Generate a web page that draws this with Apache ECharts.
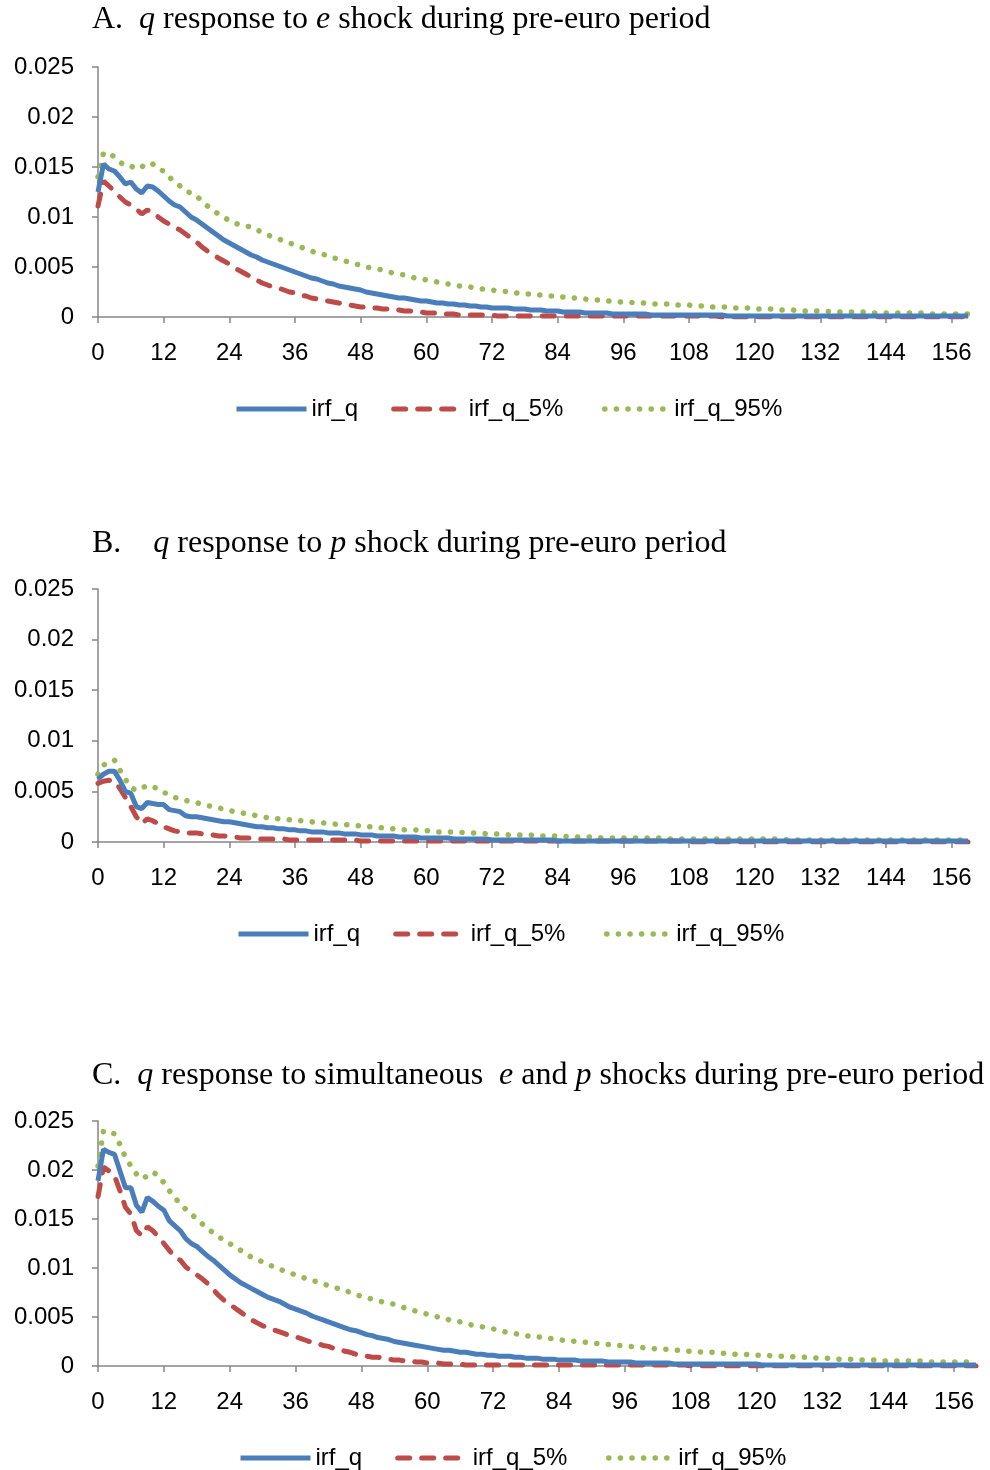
<!DOCTYPE html>
<html>
<head>
<meta charset="utf-8">
<script src="https://cdn.jsdelivr.net/npm/echarts@6/dist/echarts.min.js"></script>
<style>
  html, body { margin: 0; padding: 0; background: #fff; }
  #grafiks { width: 990px; height: 1470px; }
</style>
</head>
<body>
<div id="grafiks"></div>
<script>
// periods shown on the x axis, labels every 12 months
var xTicks = ['0', '12', '24', '36', '48', '60', '72', '84', '96', '108', '120', '132', '144', '156']
var periodsAB = Array.from({ length: 160 }, function (_, i) { return String(i) })
var periodsC = Array.from({ length: 161 }, function (_, i) { return String(i) })

// A. q response to e shock
var qA = [
  0.0125,0.0153,0.0148,0.0146,0.0140,0.0133,0.0135,0.0128,0.0124,0.0131,0.0130,0.0126,
  0.0121,0.0116,0.0112,0.0110,0.0105,0.0100,0.0097,0.0093,0.0089,0.0085,0.0081,0.0077,
  0.0074,0.0071,0.0068,0.0065,0.0062,0.0060,0.0057,0.0055,0.0053,0.0051,0.0049,0.0047,
  0.0045,0.0043,0.0041,0.0039,0.0038,0.0036,0.0034,0.0033,0.0031,0.0030,0.0029,0.0028,
  0.0027,0.0025,0.0024,0.0023,0.0022,0.0021,0.0020,0.0019,0.0019,0.0018,0.0017,0.0016,
  0.0016,0.0015,0.0014,0.0014,0.0013,0.0013,0.0012,0.0012,0.0011,0.0011,0.0010,0.0010,
  0.0009,0.0009,0.0009,0.0009,0.0008,0.0008,0.0008,0.0007,0.0007,0.0007,0.0006,0.0006,
  0.0006,0.0005,0.0005,0.0005,0.0005,0.0004,0.0004,0.0004,0.0004,0.0004,0.0003,0.0003,
  0.0003,0.0003,0.0003,0.0003,0.0003,0.0002,0.0002,0.0002,0.0002,0.0002,0.0002,0.0002,
  0.0002,0.0002,0.0002,0.0002,0.0002,0.0002,0.0002,0.0001,0.0001,0.0001,0.0001,0.0001,
  0.0001,0.0001,0.0001,0.0001,0.0001,0.0001,0.0001,0.0001,0.0001,0.0001,0.0001,0.0001,
  0.0001,0.0001,0.0001,0.0001,0.0001,0.0001,0.0001,0.0001,0.0001,0.0001,0.0001,0.0001,
  0.0001,0.0001,0.0001,0.0001,0.0001,0.0001,0.0001,0.0001,0.0001,0.0001,0.0001,0.0001,
  0.0001,0.0001,0.0001,0.0001
]
var q5A = [
  0.0111,0.0136,0.0131,0.0126,0.0120,0.0115,0.0112,0.0108,0.0103,0.0107,0.0105,0.0100,
  0.0096,0.0093,0.0090,0.0087,0.0083,0.0079,0.0075,0.0070,0.0066,0.0063,0.0059,0.0056,
  0.0053,0.0049,0.0046,0.0043,0.0040,0.0037,0.0034,0.0032,0.0030,0.0029,0.0027,0.0025,
  0.0024,0.0022,0.0021,0.0019,0.0018,0.0017,0.0016,0.0015,0.0014,0.0013,0.0012,0.0011,
  0.0010,0.0010,0.0009,0.0009,0.0008,0.0008,0.0007,0.0007,0.0006,0.0006,0.0005,0.0005,
  0.0004,0.0004,0.0004,0.0003,0.0003,0.0003,0.0002,0.0002,0.0002,0.0002,0.0002,0.0002,
  0.0002,0.0001,0.0001,0.0001,0.0001,0.0001,0.0001,0.0001,0.0001,0.0001,0.0001,0.0001,
  0.0001,0.0001,0.0001,0.0001,0.0001,0.0001,0.0001,0.0001,0.0001,0.0001,0.0001,0.0001,
  0.0001,0.0001,0.0001,0.0001,0.0001,0.0001,0.0001,0.0001,0.0001,0.0001,0.0001,0.0001,
  0.0001,0.0001,0.0001,0.0001,0.0001,0.0001,0,0,0,0,0,0,
  0,0,0,0,0,0,0,0,0,0,0,0,
  0,0,0,0,0,0,0,0,0,0,0,0,
  0,0,0,0,0,0,0,0,0,0,0,0,
  0,0,0,0
]
var q95A = [
  0.0140,0.0164,0.0164,0.0160,0.0155,0.0151,0.0151,0.0148,0.0150,0.0154,0.0153,0.0148,
  0.0146,0.0140,0.0135,0.0131,0.0126,0.0124,0.0121,0.0116,0.0111,0.0107,0.0103,0.0100,
  0.0096,0.0094,0.0092,0.0091,0.0090,0.0087,0.0085,0.0082,0.0080,0.0078,0.0076,0.0074,
  0.0072,0.0070,0.0068,0.0066,0.0064,0.0063,0.0061,0.0059,0.0058,0.0056,0.0055,0.0053,
  0.0052,0.0050,0.0049,0.0048,0.0047,0.0045,0.0044,0.0043,0.0042,0.0040,0.0039,0.0038,
  0.0037,0.0036,0.0035,0.0034,0.0033,0.0032,0.0031,0.0030,0.0030,0.0029,0.0028,0.0028,
  0.0027,0.0026,0.0026,0.0025,0.0024,0.0024,0.0023,0.0023,0.0022,0.0022,0.0021,0.0021,
  0.0020,0.0020,0.0019,0.0019,0.0018,0.0018,0.0017,0.0017,0.0017,0.0016,0.0016,0.0015,
  0.0015,0.0015,0.0014,0.0014,0.0014,0.0013,0.0013,0.0013,0.0013,0.0012,0.0012,0.0012,
  0.0012,0.0011,0.0011,0.0011,0.0010,0.0010,0.0010,0.0010,0.0009,0.0009,0.0009,0.0009,
  0.0008,0.0008,0.0008,0.0008,0.0007,0.0007,0.0007,0.0007,0.0006,0.0006,0.0006,0.0006,
  0.0006,0.0006,0.0005,0.0005,0.0005,0.0005,0.0005,0.0005,0.0005,0.0004,0.0004,0.0004,
  0.0004,0.0004,0.0004,0.0004,0.0004,0.0004,0.0004,0.0004,0.0003,0.0003,0.0003,0.0003,
  0.0003,0.0003,0.0003,0.0003
]

// B. q response to p shock
var qB = [
  0.0062,0.0067,0.0070,0.0070,0.0061,0.0050,0.0048,0.0035,0.0033,0.0039,0.0038,0.0037,
  0.0037,0.0032,0.0031,0.0030,0.0026,0.0025,0.0025,0.0024,0.0023,0.0022,0.0021,0.0020,
  0.0020,0.0019,0.0018,0.0017,0.0016,0.0015,0.0015,0.0014,0.0014,0.0013,0.0013,0.0012,
  0.0012,0.0011,0.0011,0.0010,0.0010,0.0010,0.0009,0.0009,0.0009,0.0008,0.0008,0.0008,
  0.0007,0.0007,0.0007,0.0006,0.0006,0.0006,0.0006,0.0005,0.0005,0.0005,0.0005,0.0004,
  0.0004,0.0004,0.0004,0.0004,0.0004,0.0003,0.0003,0.0003,0.0003,0.0003,0.0003,0.0003,
  0.0002,0.0002,0.0002,0.0002,0.0002,0.0002,0.0002,0.0002,0.0002,0.0002,0.0002,0.0002,
  0.0001,0.0001,0.0001,0.0001,0.0001,0.0001,0.0001,0.0001,0.0001,0.0001,0.0001,0.0001,
  0.0001,0.0001,0.0001,0.0001,0.0001,0.0001,0.0001,0.0001,0.0001,0.0001,0.0001,0.0001,
  0.0001,0.0001,0.0001,0.0001,0.0001,0.0001,0.0001,0.0001,0.0001,0.0001,0.0001,0.0001,
  0.0001,0.0001,0.0001,0.0001,0.0001,0.0001,0.0001,0.0001,0.0001,0.0001,0.0001,0.0001,
  0.0001,0.0001,0.0001,0.0001,0.0001,0.0001,0.0001,0.0001,0.0001,0.0001,0.0001,0.0001,
  0.0001,0.0001,0.0001,0.0001,0.0001,0.0001,0.0001,0.0001,0.0001,0.0001,0.0001,0.0001,
  0.0001,0.0001,0.0001,0.0001
]
var q5B = [
  0.0058,0.0060,0.0061,0.0060,0.0053,0.0044,0.0035,0.0025,0.0018,0.0023,0.0021,0.0018,
  0.0015,0.0013,0.0011,0.0010,0.0009,0.0009,0.0009,0.0008,0.0007,0.0007,0.0006,0.0006,
  0.0005,0.0005,0.0004,0.0004,0.0004,0.0003,0.0003,0.0003,0.0003,0.0003,0.0003,0.0002,
  0.0002,0.0002,0.0002,0.0002,0.0002,0.0002,0.0002,0.0002,0.0002,0.0002,0.0002,0.0002,
  0.0001,0.0001,0.0001,0.0001,0.0001,0.0001,0.0001,0.0001,0.0001,0.0001,0.0001,0.0001,
  0.0001,0.0001,0.0001,0.0001,0.0001,0.0001,0.0001,0.0001,0.0001,0.0001,0.0001,0.0001,
  0.0001,0.0001,0.0001,0.0001,0.0001,0.0001,0.0001,0.0001,0.0001,0.0001,0.0001,0.0001,
  0.0001,0.0001,0.0001,0.0001,0.0001,0.0001,0.0001,0.0001,0.0001,0.0001,0.0001,0.0001,
  0.0001,0.0001,0.0001,0.0001,0.0001,0.0001,0.0001,0.0001,0.0001,0.0001,0.0001,0.0001,
  0,0,0,0,0,0,0,0,0,0,0,0,
  0,0,0,0,0,0,0,0,0,0,0,0,
  0,0,0,0,0,0,0,0,0,0,0,0,
  0,0,0,0,0,0,0,0,0,0,0,0,
  0,0,0,0
]
var q95B = [
  0.0067,0.0076,0.0079,0.0081,0.0071,0.0062,0.0054,0.0051,0.0053,0.0056,0.0054,0.0053,
  0.0049,0.0047,0.0044,0.0043,0.0041,0.0040,0.0039,0.0037,0.0036,0.0035,0.0034,0.0032,
  0.0031,0.0030,0.0029,0.0028,0.0027,0.0026,0.0025,0.0024,0.0023,0.0023,0.0022,0.0022,
  0.0021,0.0021,0.0020,0.0020,0.0019,0.0019,0.0018,0.0018,0.0017,0.0017,0.0017,0.0016,
  0.0016,0.0015,0.0015,0.0014,0.0014,0.0014,0.0013,0.0013,0.0012,0.0012,0.0012,0.0011,
  0.0011,0.0011,0.0010,0.0010,0.0010,0.0010,0.0010,0.0009,0.0009,0.0009,0.0009,0.0008,
  0.0008,0.0008,0.0008,0.0007,0.0007,0.0007,0.0007,0.0007,0.0006,0.0006,0.0006,0.0006,
  0.0006,0.0006,0.0005,0.0005,0.0005,0.0005,0.0005,0.0005,0.0004,0.0004,0.0004,0.0004,
  0.0004,0.0004,0.0004,0.0004,0.0004,0.0004,0.0004,0.0004,0.0003,0.0003,0.0003,0.0003,
  0.0003,0.0003,0.0003,0.0003,0.0003,0.0003,0.0003,0.0003,0.0003,0.0003,0.0003,0.0003,
  0.0003,0.0003,0.0003,0.0003,0.0003,0.0003,0.0002,0.0002,0.0002,0.0002,0.0002,0.0002,
  0.0002,0.0002,0.0002,0.0002,0.0002,0.0002,0.0002,0.0002,0.0002,0.0002,0.0002,0.0002,
  0.0002,0.0002,0.0002,0.0002,0.0002,0.0002,0.0002,0.0002,0.0002,0.0002,0.0002,0.0002,
  0.0002,0.0002,0.0002,0.0002
]

// C. q response to simultaneous e and p shocks
var qC = [
  0.0189,0.0221,0.0218,0.0216,0.0199,0.0182,0.0182,0.0164,0.0157,0.0172,0.0168,0.0163,
  0.0159,0.0148,0.0143,0.0138,0.0130,0.0125,0.0122,0.0117,0.0112,0.0108,0.0103,0.0098,
  0.0093,0.0089,0.0085,0.0082,0.0079,0.0076,0.0073,0.0070,0.0068,0.0066,0.0063,0.0060,
  0.0058,0.0056,0.0054,0.0051,0.0049,0.0047,0.0045,0.0043,0.0041,0.0039,0.0037,0.0036,
  0.0034,0.0032,0.0031,0.0029,0.0028,0.0027,0.0025,0.0024,0.0023,0.0022,0.0021,0.0020,
  0.0019,0.0018,0.0017,0.0016,0.0016,0.0015,0.0014,0.0014,0.0013,0.0012,0.0012,0.0011,
  0.0011,0.0010,0.0010,0.0010,0.0009,0.0009,0.0008,0.0008,0.0008,0.0007,0.0007,0.0007,
  0.0006,0.0006,0.0006,0.0006,0.0005,0.0005,0.0005,0.0005,0.0005,0.0004,0.0004,0.0004,
  0.0004,0.0004,0.0003,0.0003,0.0003,0.0003,0.0003,0.0003,0.0003,0.0002,0.0002,0.0002,
  0.0002,0.0002,0.0002,0.0002,0.0002,0.0002,0.0002,0.0002,0.0002,0.0002,0.0002,0.0002,
  0.0002,0.0001,0.0001,0.0001,0.0001,0.0001,0.0001,0.0001,0.0001,0.0001,0.0001,0.0001,
  0.0001,0.0001,0.0001,0.0001,0.0001,0.0001,0.0001,0.0001,0.0001,0.0001,0.0001,0.0001,
  0.0001,0.0001,0.0001,0.0001,0.0001,0.0001,0.0001,0.0001,0.0001,0.0001,0.0001,0.0001,
  0.0001,0.0001,0.0001,0.0001,0.0001
]
var q5C = [
  0.0173,0.0203,0.0199,0.0194,0.0179,0.0162,0.0155,0.0138,0.0133,0.0142,0.0138,0.0132,
  0.0125,0.0118,0.0111,0.0108,0.0101,0.0097,0.0093,0.0089,0.0084,0.0078,0.0072,0.0067,
  0.0063,0.0059,0.0055,0.0051,0.0047,0.0044,0.0041,0.0039,0.0037,0.0035,0.0033,0.0031,
  0.0030,0.0028,0.0026,0.0024,0.0023,0.0021,0.0020,0.0018,0.0017,0.0015,0.0014,0.0012,
  0.0011,0.0010,0.0009,0.0009,0.0008,0.0007,0.0006,0.0006,0.0005,0.0005,0.0004,0.0004,
  0.0003,0.0003,0.0003,0.0002,0.0002,0.0002,0.0002,0.0001,0.0001,0.0001,0.0001,0.0001,
  0.0001,0.0001,0.0001,0.0001,0.0001,0.0001,0.0001,0.0001,0.0001,0.0001,0.0001,0.0001,
  0.0001,0.0001,0.0001,0.0001,0.0001,0.0001,0.0001,0.0001,0.0001,0.0001,0.0001,0.0001,
  0.0001,0.0001,0.0001,0.0001,0.0001,0.0001,0.0001,0.0001,0.0001,0.0001,0.0001,0.0001,
  0,0,0,0,0,0,0,0,0,0,0,0,
  0,0,0,0,0,0,0,0,0,0,0,0,
  0,0,0,0,0,0,0,0,0,0,0,0,
  0,0,0,0,0,0,0,0,0,0,0,0,
  0,0,0,0,0
]
var q95C = [
  0.0204,0.0240,0.0238,0.0237,0.0226,0.0213,0.0204,0.0196,0.0191,0.0194,0.0198,0.0194,
  0.0187,0.0179,0.0172,0.0165,0.0160,0.0155,0.0150,0.0145,0.0140,0.0136,0.0132,0.0128,
  0.0125,0.0121,0.0118,0.0114,0.0111,0.0109,0.0106,0.0104,0.0101,0.0099,0.0097,0.0095,
  0.0093,0.0091,0.0089,0.0087,0.0086,0.0084,0.0082,0.0080,0.0079,0.0077,0.0075,0.0073,
  0.0071,0.0070,0.0068,0.0067,0.0065,0.0064,0.0063,0.0061,0.0059,0.0057,0.0056,0.0054,
  0.0053,0.0051,0.0050,0.0049,0.0047,0.0046,0.0045,0.0044,0.0042,0.0041,0.0040,0.0039,
  0.0038,0.0036,0.0035,0.0034,0.0033,0.0032,0.0031,0.0030,0.0030,0.0029,0.0028,0.0028,
  0.0027,0.0026,0.0026,0.0025,0.0025,0.0024,0.0023,0.0023,0.0022,0.0022,0.0021,0.0021,
  0.0020,0.0020,0.0019,0.0019,0.0018,0.0018,0.0017,0.0017,0.0017,0.0016,0.0016,0.0015,
  0.0015,0.0015,0.0014,0.0014,0.0014,0.0013,0.0013,0.0013,0.0012,0.0012,0.0012,0.0011,
  0.0011,0.0011,0.0011,0.0010,0.0010,0.0010,0.0010,0.0009,0.0009,0.0009,0.0009,0.0008,
  0.0008,0.0008,0.0008,0.0007,0.0007,0.0007,0.0007,0.0006,0.0006,0.0006,0.0006,0.0005,
  0.0005,0.0005,0.0005,0.0005,0.0005,0.0005,0.0005,0.0005,0.0004,0.0004,0.0004,0.0004,
  0.0004,0.0004,0.0004,0.0004,0.0004
]

var names = ['irf_q', 'irf_q_5%', 'irf_q_95%']
var colors = ['#4A7EBB', '#BE4B48', '#98B954']
var sans = 'Liberation Sans'
var serif = 'Liberation Serif'
var axisGrey = '#868686'

var grafik = echarts.init(document.getElementById('grafiks'), null, { renderer: 'canvas' })

var titleRich = {
  n: { fontFamily: serif, fontSize: 32, color: '#000', fontWeight: 'normal' },
  i: { fontFamily: serif, fontSize: 32, color: '#000', fontWeight: 'normal', fontStyle: 'italic' }
}

function showTick(index, value) {
  return xTicks.indexOf(value) >= 0
}

function xAxis(gridIndex, cats) {
  return {
    type: 'category',
    gridIndex: gridIndex,
    data: cats,
    boundaryGap: false,
    axisLine: { show: true, lineStyle: { color: axisGrey, width: 1.5 } },
    axisTick: { show: true, inside: false, length: 6, interval: showTick, lineStyle: { color: axisGrey, width: 1.5 } },
    axisLabel: { interval: showTick, margin: 24, color: '#000', fontFamily: sans, fontSize: 24 },
    splitLine: { show: false }
  }
}

function yAxis(gridIndex) {
  return {
    type: 'value',
    gridIndex: gridIndex,
    min: 0,
    max: 0.025,
    interval: 0.005,
    axisLine: { show: true, lineStyle: { color: axisGrey, width: 1.5 } },
    axisTick: { show: true, inside: false, length: 6, lineStyle: { color: axisGrey, width: 1.5 } },
    axisLabel: { margin: 24, color: '#000', fontFamily: sans, fontSize: 24 },
    splitLine: { show: false }
  }
}

var lineStyles = [
  { width: 5, type: 'solid', cap: 'butt' },
  { width: 5, type: [12, 12], cap: 'round' },
  { width: 5.5, type: [0.1, 11.5], cap: 'round' }
]

function makeSeries(idx, data, k) {
  var ls = Object.assign({ color: colors[k] }, lineStyles[k])
  return {
    name: names[k],
    type: 'line',
    xAxisIndex: idx,
    yAxisIndex: idx,
    data: data,
    symbol: 'circle',
    showSymbol: false,
    itemStyle: { color: colors[k] },
    lineStyle: ls,
    z: 3 - k,
    emphasis: { disabled: true }
  }
}

function legend(left, top) {
  return {
    left: left,
    top: top,
    padding: 0,
    orient: 'horizontal',
    data: [
      { name: names[0], lineStyle: { width: 'inherit', dashOffset: 0 } },
      { name: names[1], lineStyle: { width: 'inherit', dashOffset: 0 } },
      { name: names[2], lineStyle: { width: 'inherit', dashOffset: 6 } }
    ],
    itemWidth: 70,
    itemHeight: 14,
    itemGap: 33,
    selectedMode: false,
    itemStyle: { opacity: 0, borderWidth: 0 },
    lineStyle: { width: 'inherit' },
    textStyle: { fontFamily: sans, fontSize: 24, color: '#000' }
  }
}

var option = {
  animation: false,
  backgroundColor: '#fff',
  title: [
    { left: 92, top: 4, padding: 0, text: '{n|A.  }{i|q}{n| response to }{i|e}{n| shock during pre-euro period}', textStyle: { rich: titleRich } },
    { left: 92, top: 528, padding: 0, text: '{n|B.    }{i|q}{n| response to }{i|p}{n| shock during pre-euro period}', textStyle: { rich: titleRich } },
    { left: 92, top: 1060, padding: 0, text: '{n|C.  }{i|q}{n| response to simultaneous  }{i|e}{n| and }{i|p}{n| shocks during pre-euro period}', textStyle: { rich: titleRich } }
  ],
  legend: [legend(234, 397), legend(236, 922), legend(238, 1446)],
  grid: [
    { left: 98, top: 67, width: 870, height: 250, containLabel: false, outerBoundsMode: 'none' },
    { left: 98, top: 589, width: 870, height: 253, containLabel: false, outerBoundsMode: 'none' },
    { left: 98, top: 1121, width: 878, height: 245, containLabel: false, outerBoundsMode: 'none' }
  ],
  xAxis: [xAxis(0, periodsAB), xAxis(1, periodsAB), xAxis(2, periodsC)],
  yAxis: [yAxis(0), yAxis(1), yAxis(2)],
  series: [
    makeSeries(0, qA, 0), makeSeries(0, q5A, 1), makeSeries(0, q95A, 2),
    makeSeries(1, qB, 0), makeSeries(1, q5B, 1), makeSeries(1, q95B, 2),
    makeSeries(2, qC, 0), makeSeries(2, q5C, 1), makeSeries(2, q95C, 2)
  ]
}
grafik.setOption(option)
</script>
</body>
</html>
